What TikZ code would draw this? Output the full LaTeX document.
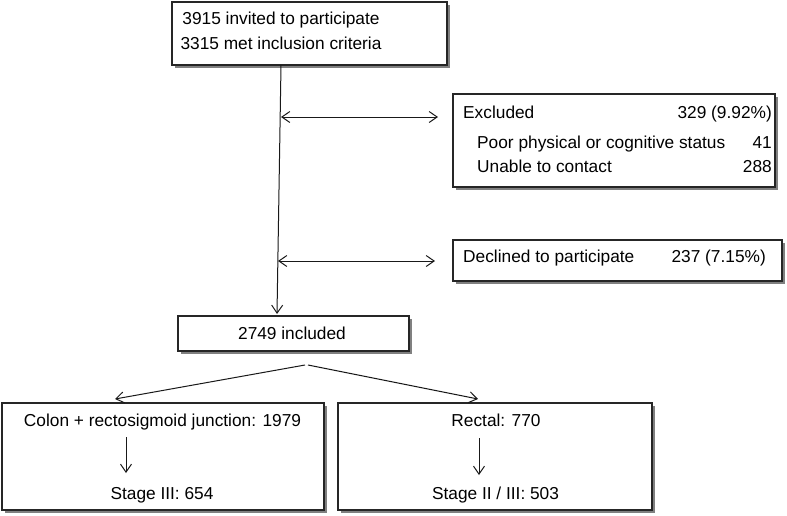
\documentclass[tikz,border=0pt]{standalone}
\usepackage{fontspec}
\setmainfont{Liberation Sans}
\usetikzlibrary{arrows.meta,shadows}
\begin{document}
\begin{tikzpicture}[x=1pt,y=-1pt,
  box/.style={draw=black!85, line width=1.2pt, fill=white,
    drop shadow={shadow xshift=2.5pt, shadow yshift=-2.5pt, fill=black!50, opacity=1},
    inner sep=0pt},
  txt/.style={font=\fontsize{17.3}{25}\selectfont, inner sep=0pt, text=black},
  conn/.style={line width=1pt, draw=black!90, -{Straight Barb[length=8pt,width=11pt]}},
  dconn/.style={line width=1pt, draw=black!90, {Straight Barb[length=8pt,width=11pt]}-{Straight Barb[length=8pt,width=11pt]}},
]
\useasboundingbox (0,0) rectangle (787,515);

% boxes
\node[box, minimum width=275pt, minimum height=63pt] (top) at (309.5,33.5) {};
\node[box, minimum width=322pt, minimum height=93pt] (exc) at (614,140.5) {};
\node[box, minimum width=329pt, minimum height=41pt] (dec) at (617.5,260.5) {};
\node[box, minimum width=231pt, minimum height=35pt] (inc) at (293.5,333.5) {};
\node[box, minimum width=322pt, minimum height=107pt] (colon) at (163,456.5) {};
\node[box, minimum width=314pt, minimum height=107pt] (rect) at (495,456.5) {};

% texts
\node[txt, anchor=base] (t1) at (281,24) {3915 invited to participate};
\node[txt, anchor=base] (t2) at (281,49) {3315 met inclusion criteria};

\node[txt, anchor=base west] (e1) at (463,118) {Excluded};
\node[txt, anchor=base east] (e2) at (772,118) {329 (9.92\%)};
\node[txt, anchor=base west] (e3) at (477,148) {Poor physical or cognitive status};
\node[txt, anchor=base east] (e4) at (772,148) {41};
\node[txt, anchor=base west] (e5) at (477,172) {Unable to contact};
\node[txt, anchor=base east] (e6) at (772,172) {288};

\node[txt, anchor=base west] (d1) at (463,262) {Declined to participate};
\node[txt, anchor=base east] (d2) at (766,262) {237 (7.15\%)};

\node[txt, anchor=base] (i1) at (292,339) {2749 included};

\node[txt, anchor=base] (c1) at (162.5,426) {Colon + rectosigmoid junction: 1979};
\node[txt, anchor=base] (c2) at (162,499) {Stage III: 654};
\node[txt, anchor=base] (r1t) at (496,426) {Rectal: 770};
\node[txt, anchor=base] (r2t) at (495.5,499) {Stage II / III: 503};

% connector points
\coordinate (vtop) at (281,65);
\coordinate (vbot) at (277,314);
\coordinate (a1) at (281,117);
\coordinate (a2) at (438,117);
\coordinate (b1) at (278,261);
\coordinate (b2) at (435,261);
\coordinate (s1) at (305,365);
\coordinate (s1e) at (115,399);
\coordinate (s2) at (308,365);
\coordinate (s2e) at (478,399);
\coordinate (l1) at (126,437);
\coordinate (l2) at (126,473);
\coordinate (r1) at (479,438);
\coordinate (r2) at (479,475);

% connectors
\draw[conn] (vtop) -- (vbot);
\draw[dconn] (a1) -- (a2);
\draw[dconn] (b1) -- (b2);
\draw[conn] (s1) -- (s1e);
\draw[conn] (s2) -- (s2e);
\draw[conn] (l1) -- (l2);
\draw[conn] (r1) -- (r2);
\end{tikzpicture}
\end{document}
